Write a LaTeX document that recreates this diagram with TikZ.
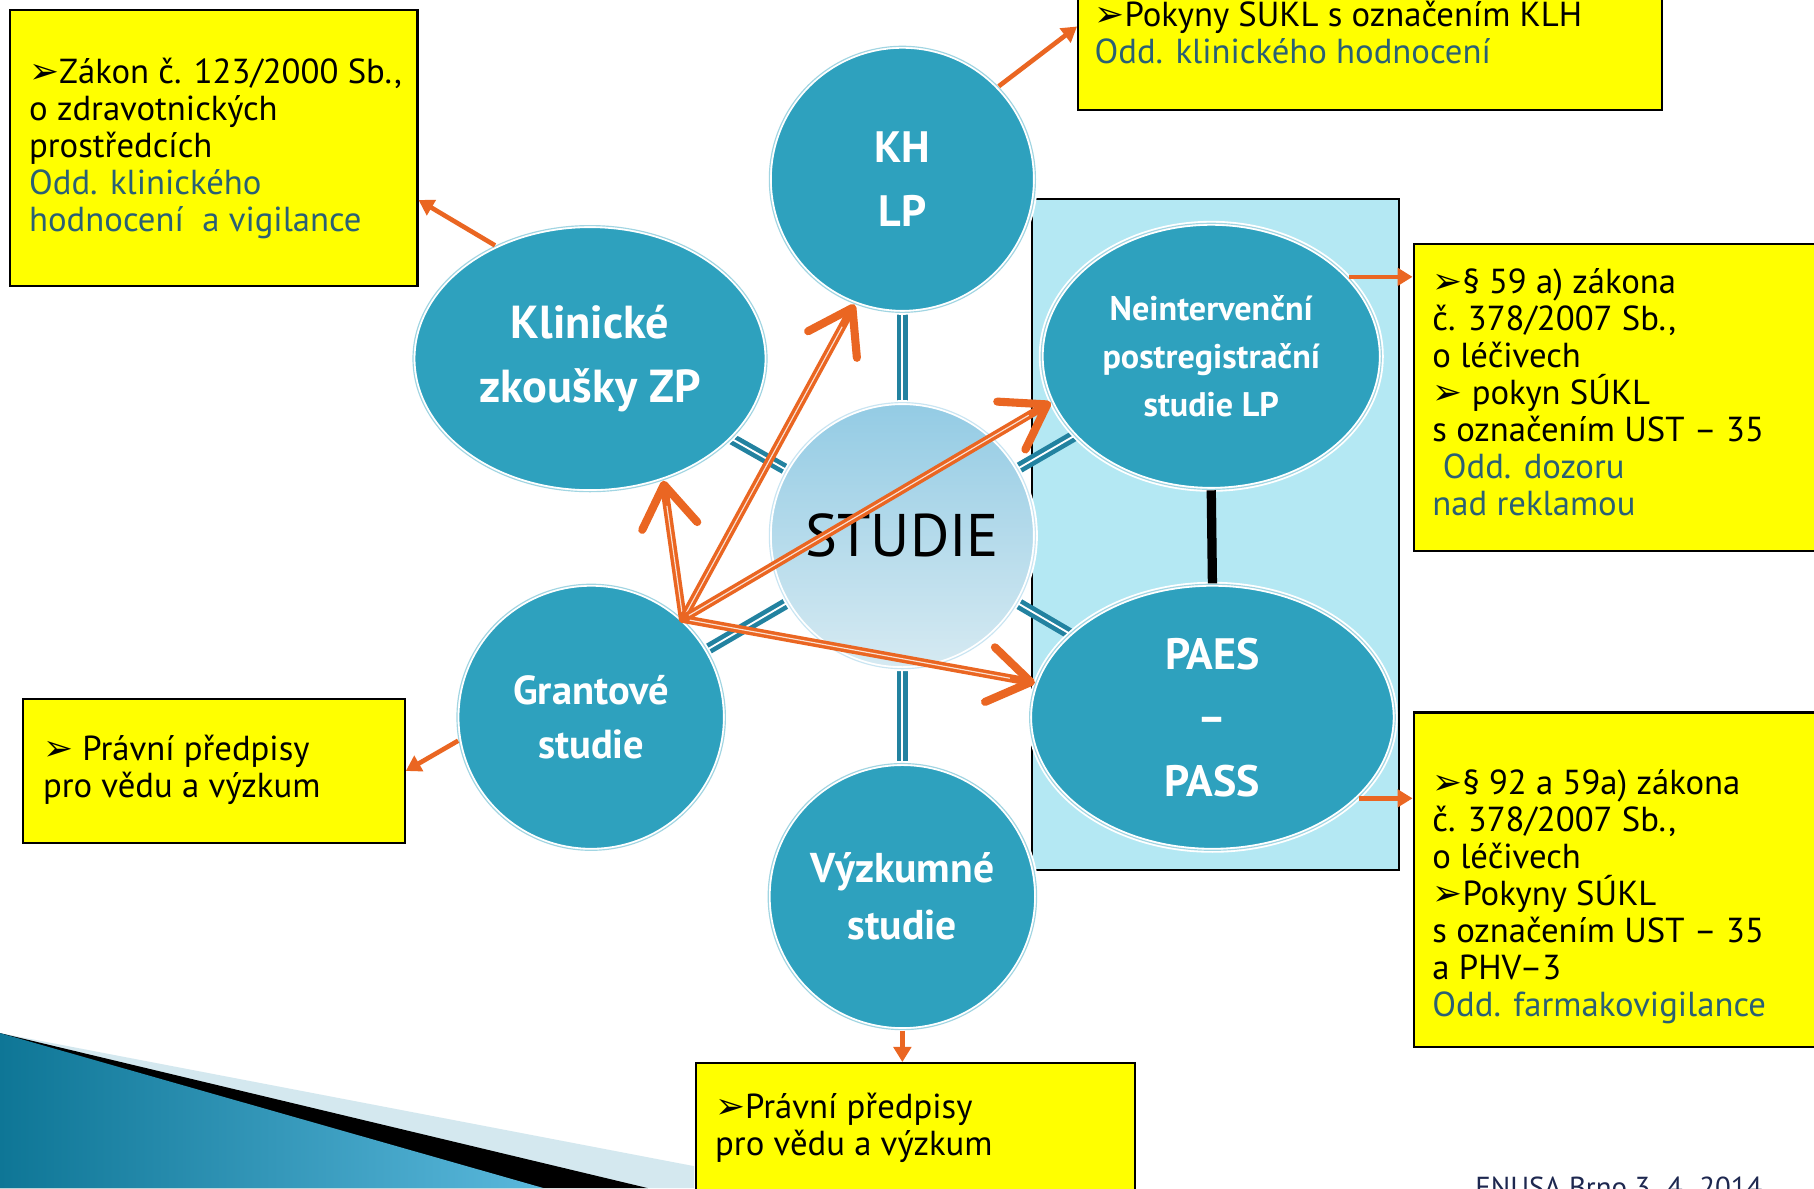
\documentclass[tikz,border=0pt]{standalone}
\usepackage{fontspec}
\setmainfont{PT Sans}
\newfontfamily\symfont{DejaVu Sans}
\usetikzlibrary{arrows.meta,shapes.geometric}
\definecolor{tealc}{RGB}{46,161,190}
\definecolor{tealconn}{RGB}{34,130,160}
\definecolor{cyanbg}{RGB}{180,232,243}
\definecolor{oran}{RGB}{234,102,34}
\definecolor{oddblue}{RGB}{42,96,116}
\definecolor{ylw}{RGB}{255,255,0}
\definecolor{footblue}{RGB}{30,40,80}
\definecolor{wedgedark}{RGB}{14,118,150}
\definecolor{wedgelight}{RGB}{90,184,220}
\definecolor{wedgeband}{RGB}{212,232,239}
\definecolor{studtop}{RGB}{147,203,228}
\definecolor{studbot}{RGB}{214,234,242}
\newcommand{\arr}{{\symfont\fontsize{31}{31}\selectfont ➢}}
\pgfdeclarelayer{bg}
\pgfdeclarelayer{mid}
\pgfsetlayers{bg,mid,main}
\begin{document}
\begin{tikzpicture}[x=1pt,y=-1pt,
  ybox/.style={fill=ylw, draw=black, line width=1.8pt, anchor=north west, inner sep=0pt},
  btxt/.style={anchor=base west, align=left, inner sep=0pt, font=\fontsize{30}{32}\selectfont},
  circ/.style={ellipse, fill=tealc, draw=white, double=tealc!45!white, double distance=1pt, line width=1.6pt, inner sep=0pt, text=white, align=center},
  conn/.style={draw=tealconn, double=white, double distance=1.6pt, line width=4pt},
  bigarr/.style={draw=oran, line width=7pt, line cap=round, -{Straight Barb[length=36pt,width=48pt,line width=7pt,round]}},
  whiteline/.style={draw=white, line width=1pt, opacity=0.8},
  smallarr/.style={draw=oran, line width=4pt, -{Triangle[length=13pt,width=15pt]}}
]
\useasboundingbox (0,0) rectangle (1568,1027);
\clip (0,0) rectangle (1568,1027);

% nodes
\node[circle, minimum size=230pt, inner sep=0pt, top color=studtop, bottom color=studbot, draw=white, double=studtop!50!white, double distance=1pt, line width=1.6pt, font=\fontsize{52}{52}\selectfont] (st) at (780,463) {STUDIE};
\node[circ, minimum width=230pt, minimum height=230pt, font=\bfseries\fontsize{38}{55}\selectfont] (kh) at (780,155) {KH\\LP};
\node[circ, minimum width=306pt, minimum height=230pt, font=\bfseries\fontsize{40}{55}\selectfont] (kz) at (510,310) {Klinické\\zkoušky ZP};
\node[circ, minimum width=294pt, minimum height=230pt, font=\bfseries\fontsize{29.5}{41.5}\selectfont] (ni) at (1047,308) {Neintervenční\\postregistrační\\studie LP};
\node[circ, minimum width=316pt, minimum height=230pt, font=\bfseries\fontsize{38}{55}\selectfont] (pa) at (1048,620) {PAES\\–\\PASS};
\node[circ, minimum width=232pt, minimum height=230pt, font=\bfseries\fontsize{35}{47}\selectfont] (gr) at (511,620) {Grantové\\studie};
\node[circ, minimum width=232pt, minimum height=230pt, font=\bfseries\fontsize{36}{49}\selectfont] (vy) at (780,775) {Výzkumné\\studie};

% background layer: white, wedge, light rectangle
\begin{pgfonlayer}{bg}
\fill[white] (0,0) rectangle (1568,1027);
\fill[wedgeband] (0,893) -- (600,1008) -- (600,1027) -- (0,1027) -- cycle;
\fill[black] (0,893) -- (560,1027) -- (0,1027) -- cycle;
\shade[left color=wedgedark, right color=wedgelight] (0,893) -- (470,1027) -- (0,1027) -- cycle;
\draw[fill=cyanbg, line width=1.5pt] (892,172) rectangle (1209,752);
\end{pgfonlayer}

% connectors behind circles
\begin{pgfonlayer}{mid}
\foreach \n in {kh,kz,ni,pa,gr,vy} \draw[conn] (st.center) -- (\n.center);
\end{pgfonlayer}

% black link
\draw[line width=8pt] (ni.south) -- (pa.north);

% yellow boxes
\node[ybox, minimum width=352pt, minimum height=238pt] (tlbox) at (8,8) {};
\node[ybox, minimum width=505pt, minimum height=104pt] (topbox) at (931,-10) {};
\node[ybox, minimum width=360pt, minimum height=265pt] (rtbox) at (1221,210) {};
\node[ybox, minimum width=360pt, minimum height=289pt] (rbbox) at (1221,615) {};
\node[ybox, minimum width=330pt, minimum height=125pt] (lbox) at (19,603) {};
\node[ybox, minimum width=379pt, minimum height=130pt] (bbox) at (601,918) {};

% box texts (anchor = baseline of last line)
\node[btxt] (tltext) at (25,200) {\arr Zákon č. 123/2000 Sb.,\\o zdravotnických\\prostředcích\\\textcolor{oddblue}{Odd. klinického}\\\textcolor{oddblue}{hodnocení\ \ a vigilance}};
\node[btxt] (toptext) at (946,55) {\arr Pokyny SÚKL s označením KLH\\\textcolor{oddblue}{Odd. klinického hodnocení}};
\node[btxt] (rttext) at (1238,446) {\arr§ 59 a) zákona\\č. 378/2007 Sb.,\\o léčivech\\\arr\ pokyn SÚKL\\s označením UST – 35\\\hspace*{0.3em}\textcolor{oddblue}{Odd. dozoru}\\\textcolor{oddblue}{nad reklamou}};
\node[btxt] (rbtext) at (1238,879) {\arr§ 92 a 59a) zákona\\č. 378/2007 Sb.,\\o léčivech\\\arr Pokyny SÚKL\\s označením UST – 35\\a PHV–3\\\textcolor{oddblue}{Odd. farmakovigilance}};
\node[btxt] (ltext) at (37,689) {\arr\ Právní předpisy\\pro vědu a výzkum};
\node[btxt] (btext) at (618,999) {\arr Právní předpisy\\pro vědu a výzkum};

% footer
\node[anchor=base west, inner sep=0pt, text=footblue, font=\fontsize{25}{25}\selectfont] (foot) at (1275,1035) {ENUSA Brno 3. 4. 2014};

% big orange arrows from Grantové
\coordinate (gsrc) at (gr.47);
\foreach \t in {kz.-59, kh.-111, ni.196, pa.169} {
  \draw[bigarr] (gsrc) -- (\t);
  \draw[whiteline, shorten >=22pt, shorten <=6pt] (gsrc) -- (\t);
}

% small orange arrows to boxes
\draw[smallarr] (kz.130) -- ([yshift=-45pt]tlbox.east);
\draw[smallarr] (kh.44) -- ([yshift=20pt]topbox.west);
\draw[smallarr] (ni.30) -- (rtbox.west |- ni.30);
\draw[smallarr] (pa.-29) -- (rbbox.west |- pa.-29);
\draw[smallarr] (gr.190) -- (lbox.east);
\draw[smallarr] (vy.south) -- (vy.south |- bbox.north);
\end{tikzpicture}
\end{document}
